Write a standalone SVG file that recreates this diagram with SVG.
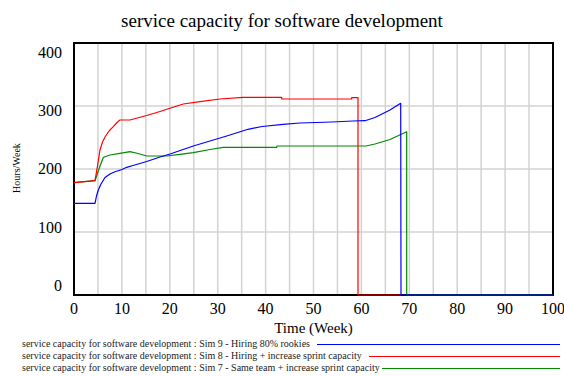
<svg xmlns="http://www.w3.org/2000/svg" width="564" height="376" viewBox="0 0 564 376">
  <style>
    text { font-family: "Liberation Serif", "Times New Roman", serif; fill: #000; }
    .title { font-size: 19px; text-anchor: middle; }
    .tick { font-size: 16px; }
    .ytick { text-anchor: end; }
    .xtick { text-anchor: middle; }
    .axis-title { font-size: 15px; text-anchor: middle; }
    .units { font-size: 10px; text-anchor: middle; }
    .legend { font-size: 10px; fill: #222; }
    .grid line { stroke: #d3d3d3; stroke-width: 1.5; }
    .series { fill: none; stroke-width: 1.2; stroke-linejoin: round; }
    .sim9 { stroke: #0000ff; }
    .sim8 { stroke: #ff0000; }
    .sim7 { stroke: #008a00; }
  </style>

  <rect width="564" height="376" fill="#fff"/>

  <text class="title" x="282" y="26.5">service capacity for software development</text>

  <!-- grid: vertical every 5 weeks, horizontal every 100 hours/week -->
  <g id="grid" class="grid">
    <line x1="97.95" y1="43" x2="97.95" y2="295"/>
    <line x1="121.9" y1="43" x2="121.9" y2="295"/>
    <line x1="145.85" y1="43" x2="145.85" y2="295"/>
    <line x1="169.8" y1="43" x2="169.8" y2="295"/>
    <line x1="193.75" y1="43" x2="193.75" y2="295"/>
    <line x1="217.7" y1="43" x2="217.7" y2="295"/>
    <line x1="241.65" y1="43" x2="241.65" y2="295"/>
    <line x1="265.6" y1="43" x2="265.6" y2="295"/>
    <line x1="289.55" y1="43" x2="289.55" y2="295"/>
    <line x1="313.5" y1="43" x2="313.5" y2="295"/>
    <line x1="337.45" y1="43" x2="337.45" y2="295"/>
    <line x1="361.4" y1="43" x2="361.4" y2="295"/>
    <line x1="385.35" y1="43" x2="385.35" y2="295"/>
    <line x1="409.3" y1="43" x2="409.3" y2="295"/>
    <line x1="433.25" y1="43" x2="433.25" y2="295"/>
    <line x1="457.2" y1="43" x2="457.2" y2="295"/>
    <line x1="481.15" y1="43" x2="481.15" y2="295"/>
    <line x1="505.1" y1="43" x2="505.1" y2="295"/>
    <line x1="529.05" y1="43" x2="529.05" y2="295"/>
    <line x1="74" y1="106" x2="553" y2="106"/>
    <line x1="74" y1="169" x2="553" y2="169"/>
    <line x1="74" y1="232" x2="553" y2="232"/>
  </g>

  <!-- plot frame -->
  <rect id="frame" x="74" y="43" width="479" height="252" fill="none" stroke="#000" stroke-width="2"/>

  <!-- simulation runs -->
  <g id="runs">
    <path id="run-sim7" class="series sim7" d="M74,182.7 L95,180.7 L97,175 L100,166 L103.3,157.5 L105,156.7 L110,155 L120,153.3 L130,151.7 L138,153.5 L146.7,156 L166.7,156 L180,154.3 L193.3,152.7 L210,149.5 L223.3,147.3 L276.7,147.3 L277,146 L366,146 L375,144 L390,139.5 L406.7,131.7 L406.7,295 L553,295"/>
    <path id="run-sim8" class="series sim8" d="M74,182.7 L95,180.7 L97.5,166 L100,150 L102.5,142 L105,137 L109,131 L113.3,126.7 L117,122.5 L120,120 L130,120 L146.7,115.5 L160,111.5 L170,108.3 L183.3,104 L200,101.7 L220,99 L243.3,97.3 L281.7,97.3 L281.7,99 L351.7,99 L351.7,97.7 L358,97.7 L358,295 L401,295"/>
    <path id="run-sim9" class="series sim9" d="M74,203.3 L95,203.3 L96.5,196 L98.3,190 L101,184 L105,177.5 L110,174 L115,171.7 L122,169.5 L126.7,167.3 L133,165.5 L146.7,161.5 L160,157 L170,154 L193.3,146 L226.7,136 L248,129.3 L262,126.5 L283,124.3 L300,123 L331.7,122 L353,121 L365,120.7 L375,117.5 L390,110 L400.7,103.3 L401,295 L553,295"/>
  </g>

  <!-- axis labels -->
  <g id="y-axis">
    <text class="tick ytick" x="62" y="58.3">400</text>
    <text class="tick ytick" x="62" y="116.3">300</text>
    <text class="tick ytick" x="62" y="174.3">200</text>
    <text class="tick ytick" x="62" y="232.7">100</text>
    <text class="tick ytick" x="62" y="291">0</text>
    <text class="units" transform="translate(19.5,168) rotate(-90)">Hours/Week</text>
  </g>
  <g id="x-axis">
    <text class="tick xtick" x="74" y="314">0</text>
    <text class="tick xtick" x="121.9" y="314">10</text>
    <text class="tick xtick" x="169.8" y="314">20</text>
    <text class="tick xtick" x="217.7" y="314">30</text>
    <text class="tick xtick" x="265.6" y="314">40</text>
    <text class="tick xtick" x="313.5" y="314">50</text>
    <text class="tick xtick" x="361.4" y="314">60</text>
    <text class="tick xtick" x="409.3" y="314">70</text>
    <text class="tick xtick" x="457.2" y="314">80</text>
    <text class="tick xtick" x="505.1" y="314">90</text>
    <text class="tick xtick" x="553" y="314">100</text>
    <text class="axis-title" x="313.5" y="333">Time (Week)</text>
  </g>

  <!-- legend -->
  <g id="legend">
    <text class="legend" x="22" y="347">service capacity for software development : Sim 9 - Hiring 80% rookies</text>
    <line x1="317" y1="344.5" x2="560" y2="344.5" class="series sim9"/>
    <text class="legend" x="22" y="359">service capacity for software development : Sim 8 - Hiring + increase sprint capacity</text>
    <line x1="369" y1="356.5" x2="560" y2="356.5" class="series sim8"/>
    <text class="legend" x="22" y="371">service capacity for software development : Sim 7 - Same team + increase sprint capacity</text>
    <line x1="382" y1="368.5" x2="560" y2="368.5" class="series sim7"/>
  </g>
</svg>
